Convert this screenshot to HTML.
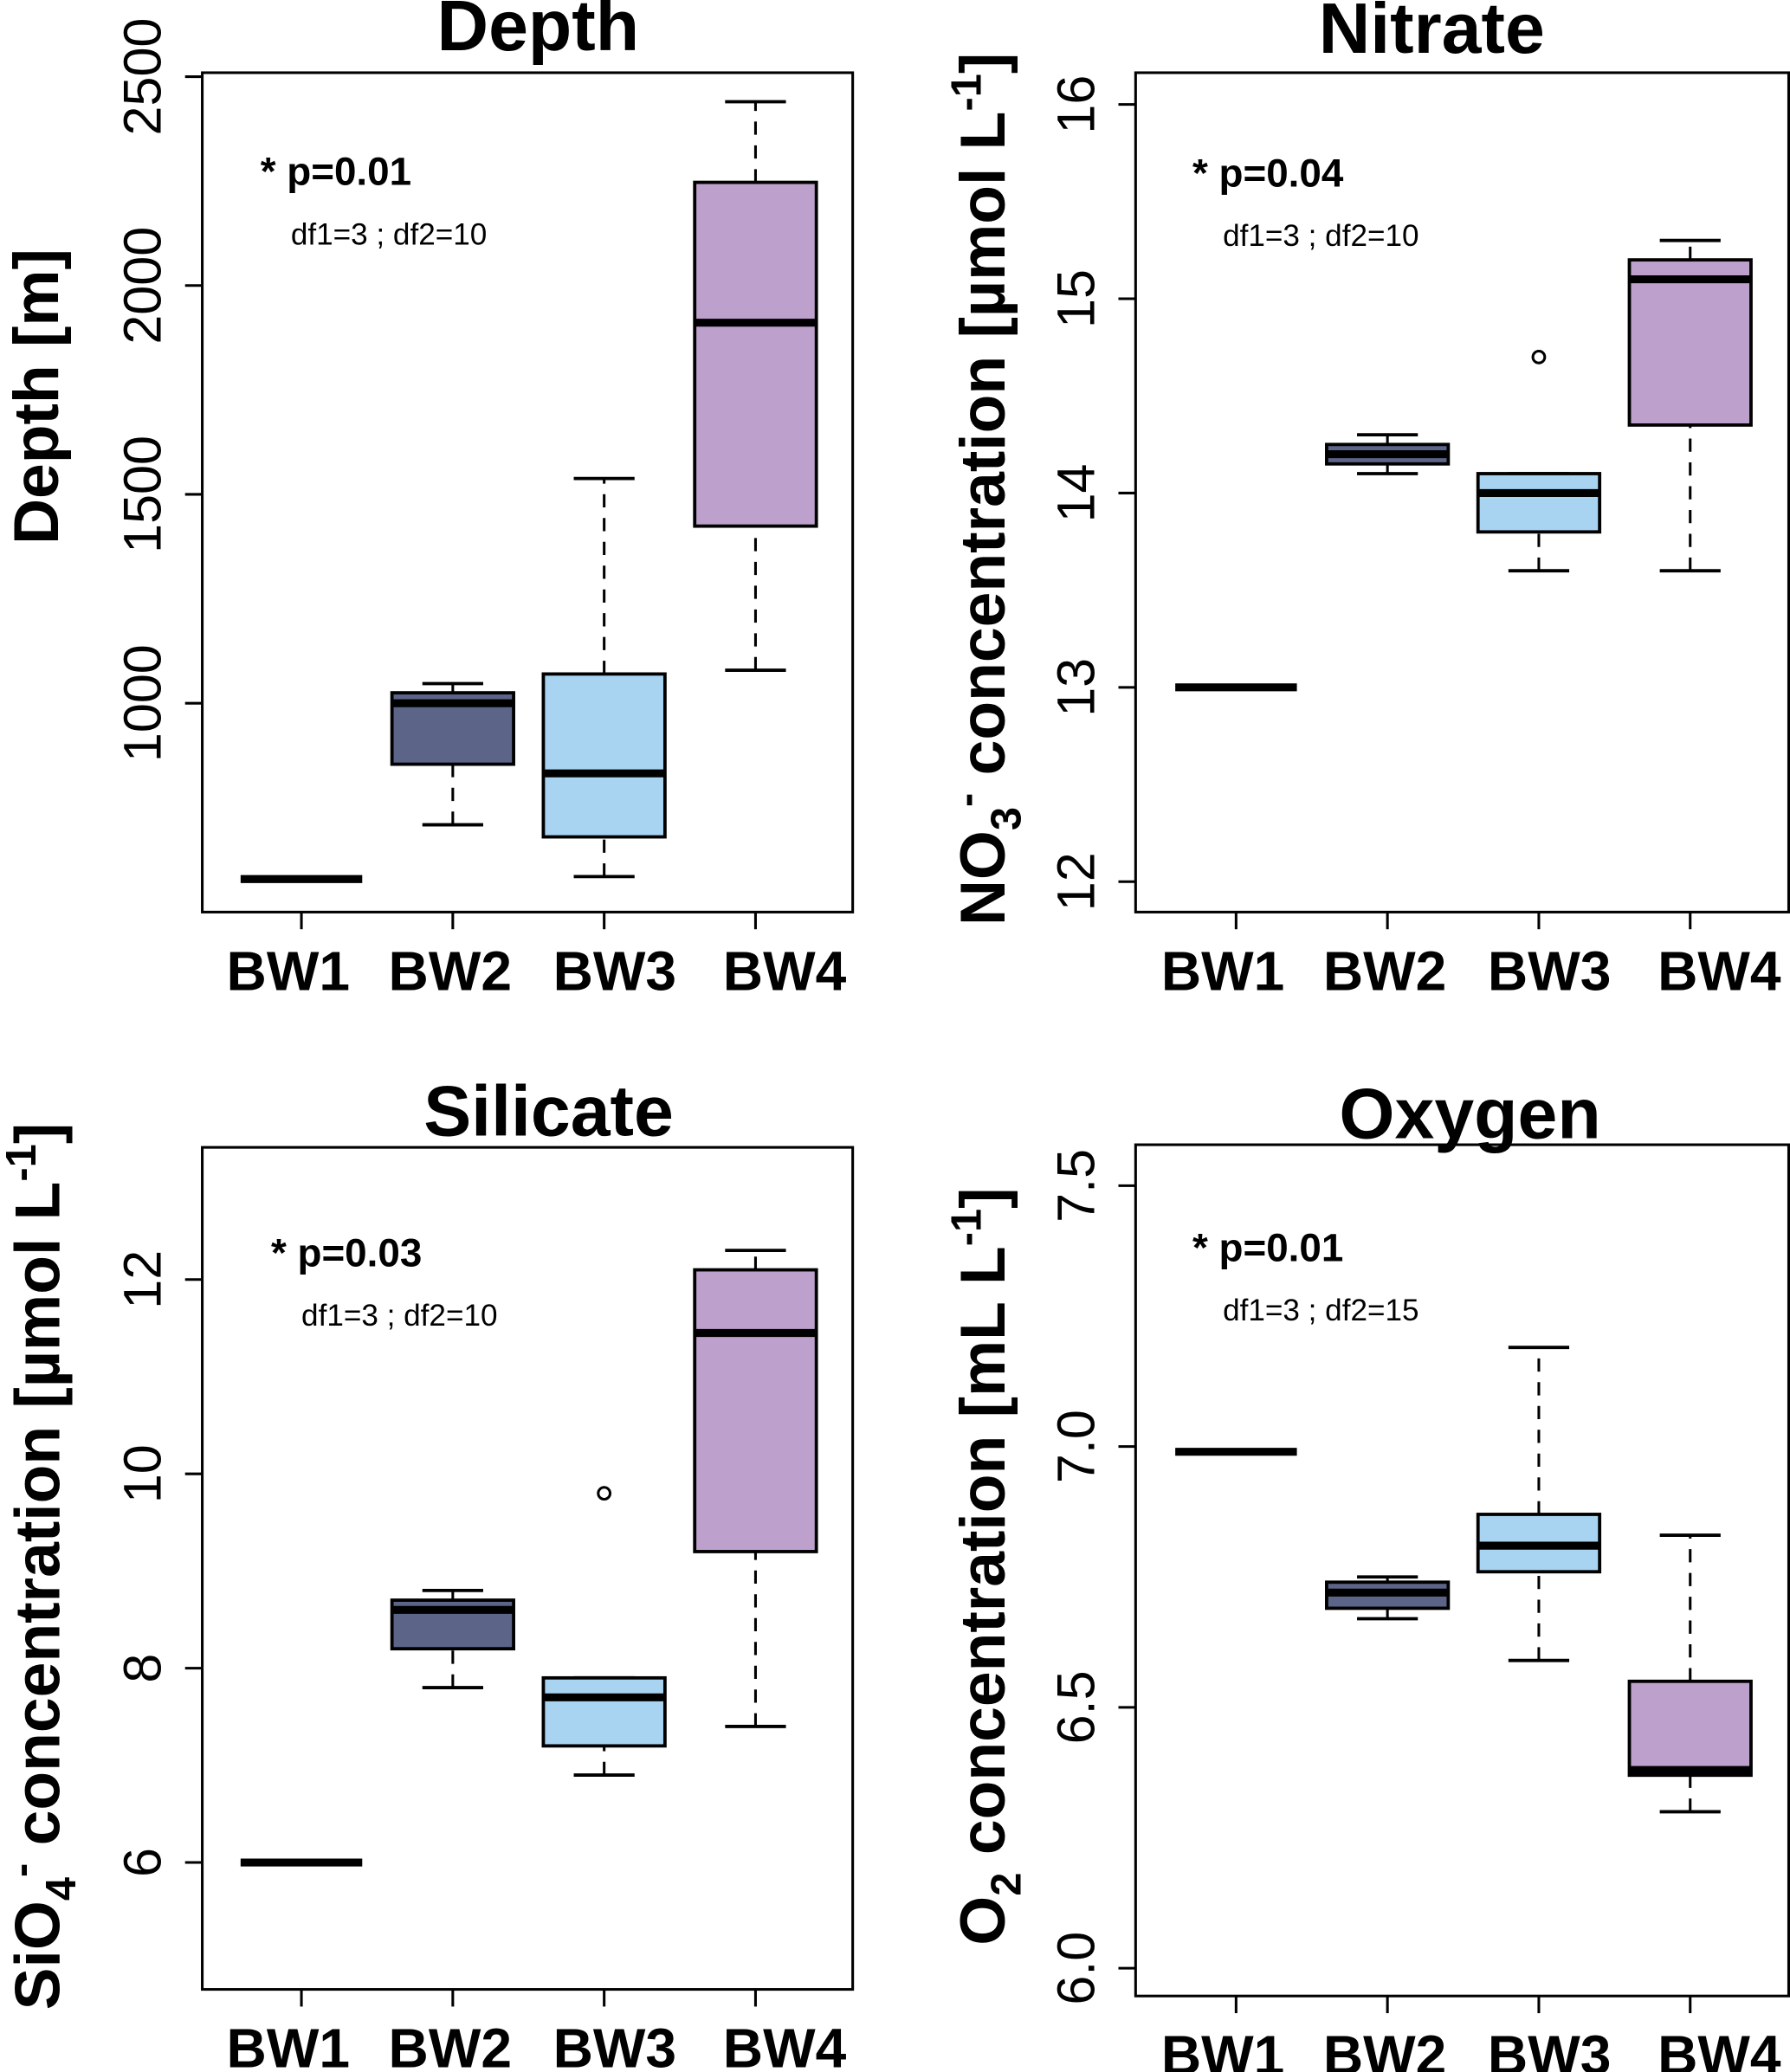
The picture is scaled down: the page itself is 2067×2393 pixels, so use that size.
<!DOCTYPE html>
<html><head><meta charset="utf-8"><style>
html,body{margin:0;padding:0;background:#fff}
svg{display:block}
text{font-family:"Liberation Sans",sans-serif}
</style></head><body>
<svg id="fig" width="2067" height="2393" viewBox="0 0 1354 1567.5" preserveAspectRatio="none" xmlns="http://www.w3.org/2000/svg"></svg>
<script>
const categories = ["BW1","BW2","BW3","BW4"];
const colors = ["#ffffff","#5c6488","#a8d4f2","#bea0cc"];
// [min, q1, median, q3, max]
const depthStats = [[579,579,579,579,579],[709,854,1000,1025,1047],[585,680,832,1070,1538],[1079,1424,1911,2247,2440]];
const depthOutliers = [[],[],[],[]];
const depthTicks = [1000,1500,2000,2500];
const nitrateStats = [[13,13,13,13,13],[14.1,14.15,14.2,14.25,14.3],[13.6,13.8,14.0,14.1,14.1],[13.6,14.35,15.1,15.2,15.3]];
const nitrateOutliers = [[],[],[14.7],[]];
const nitrateTicks = [12,13,14,15,16];
const silicateStats = [[6,6,6,6,6],[7.8,8.2,8.6,8.7,8.8],[6.9,7.2,7.7,7.9,7.9],[7.4,9.2,11.45,12.1,12.3]];
const silicateOutliers = [[],[],[9.8],[]];
const silicateTicks = [6,8,10,12];
const oxygenStats = [[6.99,6.99,6.99,6.99,6.99],[6.67,6.69,6.72,6.74,6.75],[6.59,6.76,6.81,6.87,7.19],[6.30,6.37,6.38,6.55,6.83]];
const oxygenOutliers = [[],[],[],[]];
const oxygenTicks = ["6.0","6.5","7.0","7.5"];

const svg = document.getElementById('fig');
const NS = "http://www.w3.org/2000/svg";
function mk(tag, attrs, parent){
  const e = document.createElementNS(NS, tag);
  for (const k in attrs) e.setAttribute(k, attrs[k]);
  (parent||svg).appendChild(e); return e;
}
const labelShift = [-10,-2,8,22];

function panel(o){
  const g = mk('g', {});
  
  
  const y = v => o.py0 + (v - o.v0) * (o.py1 - o.py0) / (o.v1 - o.v0);
  const xs = [o.x0, o.x0 + 114.5, o.x0 + 229, o.x0 + 343.5];
  const frame = mk('rect', {x:o.L, y:o.T, width:o.R-o.L, height:o.B-o.T, fill:'none', stroke:'#000', 'stroke-width':2}, g);
  
  
  o.ticks.forEach(t => {
    const yy = y(parseFloat(t));
    mk('line', {x1:o.L, x2:o.L-13, y1:yy, y2:yy, stroke:'#000', 'stroke-width':2}, g);
    const tx = mk('text', {x:o.L-42, y:yy, 'font-size':40, 'text-anchor':'middle', transform:`rotate(-90 ${o.L-42} ${yy})`, 'dominant-baseline':'middle'}, g);
    tx.textContent = t;
    
    
  });
  categories.forEach((c, i) => {
    const cx = xs[i];
    mk('line', {x1:cx, x2:cx, y1:o.B, y2:o.B+13, stroke:'#000', 'stroke-width':2}, g);
    const tx = mk('text', {x:cx+labelShift[i], y:o.B+59, 'font-size':42, 'font-weight':'bold', 'text-anchor':'middle'}, g);
    tx.textContent = c;
    
    
    const s = o.stats[i];
    const hw = 46, cw = 23;
    const bg = mk('g', {}, g);
    
    
    mk('line', {x1:cx, x2:cx, y1:y(s[0]), y2:y(s[1]), stroke:'#000', 'stroke-width':2, 'stroke-dasharray':'10,8'}, bg);
    mk('line', {x1:cx, x2:cx, y1:y(s[3]), y2:y(s[4]), stroke:'#000', 'stroke-width':2, 'stroke-dasharray':'10,8'}, bg);
    mk('line', {x1:cx-cw, x2:cx+cw, y1:y(s[0]), y2:y(s[0]), stroke:'#000', 'stroke-width':2.5}, bg);
    mk('line', {x1:cx-cw, x2:cx+cw, y1:y(s[4]), y2:y(s[4]), stroke:'#000', 'stroke-width':2.5}, bg);
    mk('rect', {x:cx-hw, y:y(s[3]), width:2*hw, height:Math.max(0, y(s[1])-y(s[3])), fill:colors[i], stroke:'#000', 'stroke-width':2.5}, bg);
    mk('line', {x1:cx-hw, x2:cx+hw, y1:y(s[2]), y2:y(s[2]), stroke:'#000', 'stroke-width':6}, bg);
    o.outliers[i].forEach(v => {
      const p = mk('circle', {cx:cx, cy:y(v), r:4.5, fill:'none', stroke:'#000', 'stroke-width':2}, bg);
      
      
    });
  });
  const tt = mk('text', {x:o.titleX, y:o.titleY, 'font-size':54, 'font-weight':'bold', 'text-anchor':'middle'}, g);
  tt.textContent = o.title;
  
  
  const pt = mk('text', {x:o.pX, y:o.pY, 'font-size':30, 'font-weight':'bold'}, g);
  pt.textContent = '* p=' + o.p;
  
  
  const dt = mk('text', {x:o.pX+23, y:o.pY+45, 'font-size':23}, g);
  dt.textContent = o.df;
  
  
  const yl = mk('text', {x:o.ylX, y:o.ylY, 'font-size':48, 'font-weight':'bold', 'text-anchor':'middle', transform:`rotate(-90 ${o.ylX} ${o.ylY})`}, g);
  yl.innerHTML = o.ylab;
  
  
}

panel({name:'depth', L:153, R:645, T:55, B:690, x0:228, v0:1000, v1:2500, py0:532, py1:58,
  stats:depthStats, outliers:depthOutliers, ticks:depthTicks, title:'Depth', titleX:407, titleY:38,
  p:'0.01', df:'df1=3 ; df2=10', pX:197, pY:140, ylX:44, ylY:300, ylab:'Depth [m]'});
panel({name:'nitrate', L:859, R:1353, T:55, B:690, x0:935, v0:12, v1:16, py0:667, py1:79,
  stats:nitrateStats, outliers:nitrateOutliers, ticks:nitrateTicks, title:'Nitrate', titleX:1083, titleY:40,
  p:'0.04', df:'df1=3 ; df2=10', pX:902, pY:141, ylX:760, ylY:370,
  ylab:'NO<tspan font-size="32" dy="12">3</tspan><tspan font-size="32" dy="-30">-</tspan><tspan dy="18"> concentration [µmol L</tspan><tspan font-size="32" dy="-18">-1</tspan><tspan dy="18">]</tspan>'});
panel({name:'silicate', L:153, R:645, T:868, B:1505, x0:228, v0:6, v1:12, py0:1409, py1:968,
  stats:silicateStats, outliers:silicateOutliers, ticks:silicateTicks, title:'Silicate', titleX:415, titleY:859,
  p:'0.03', df:'df1=3 ; df2=10', pX:205, pY:958, ylX:45, ylY:1185,
  ylab:'SiO<tspan font-size="32" dy="12">4</tspan><tspan font-size="32" dy="-30">-</tspan><tspan dy="18"> concentration [µmol L</tspan><tspan font-size="32" dy="-18">-1</tspan><tspan dy="18">]</tspan>'});
panel({name:'oxygen', L:859, R:1353, T:866, B:1510, x0:935, v0:6.0, v1:7.5, py0:1489, py1:897,
  stats:oxygenStats, outliers:oxygenOutliers, ticks:oxygenTicks, title:'Oxygen', titleX:1112, titleY:861,
  p:'0.01', df:'df1=3 ; df2=15', pX:902, pY:954, ylX:760, ylY:1185,
  ylab:'O<tspan font-size="32" dy="12">2</tspan><tspan dy="-12"> concentration [mL L</tspan><tspan font-size="32" dy="-18">-1</tspan><tspan dy="18">]</tspan>'});
</script>
</body></html>
